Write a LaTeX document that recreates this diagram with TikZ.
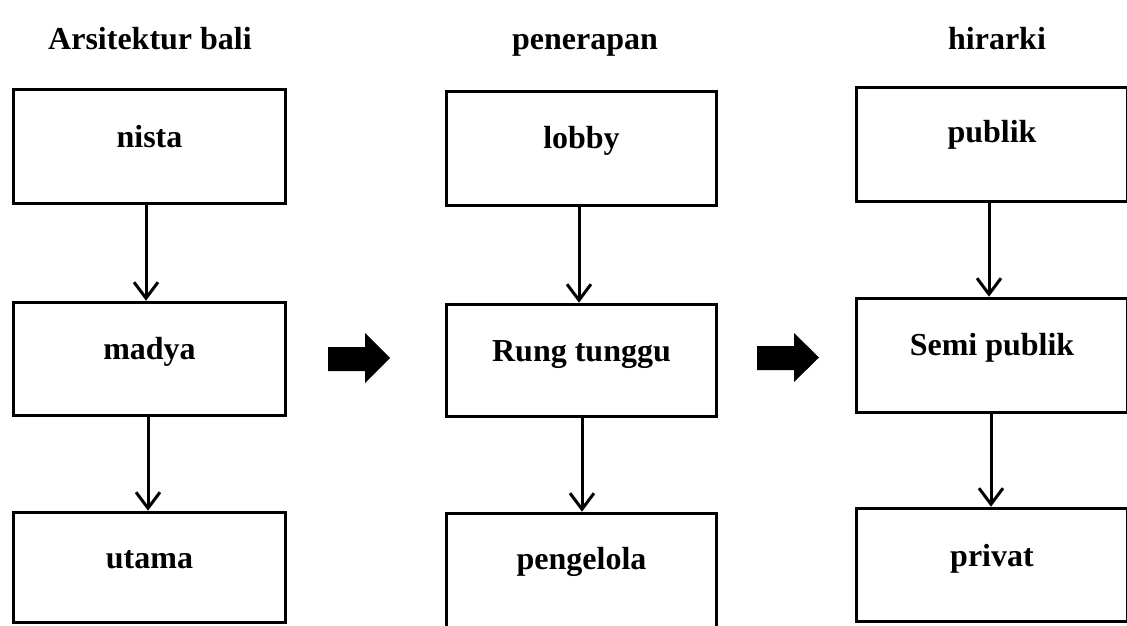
\documentclass[tikz,border=0pt]{standalone}
\usepackage{fontspec}
\setmainfont{Liberation Serif}
\usetikzlibrary{arrows.meta}
\tikzset{
  box/.style={draw=black, line width=3.6pt, inner sep=0pt, anchor=base, font=\fontsize{32}{38}\selectfont\bfseries},
  head/.style={inner sep=0pt, anchor=base, font=\fontsize{32}{38}\selectfont\bfseries},
  conn/.style={draw=black, line width=3pt, -{Straight Barb[length=16pt,width=24pt,line width=3pt]}},
  bigarrow/.style={fill=black}
}
\begin{document}
\begin{tikzpicture}[x=1pt,y=-1pt]
\path[use as bounding box] (0,0) rectangle (1127,626);
\clip (0,0) rectangle (1127,626);
% headers
\node[head] (h1) at (150,49) {Arsitektur bali};
\node[head] (h2) at (585,49) {penerapan};
\node[head] (h3) at (997,49) {hirarki};
% column 1
\node[box, minimum width=272pt, text height=57.5pt, text depth=56.5pt] (nista) at (149.5,147) {nista};
\node[box, minimum width=272pt, text height=56.5pt, text depth=56.5pt] (madya) at (149.5,359) {madya};
\node[box, minimum width=272pt, text height=55.5pt, text depth=54.5pt] (utama) at (149.5,568) {utama};
% column 2
\node[box, minimum width=270pt, text height=56.5pt, text depth=57.5pt] (lobby) at (581.5,148) {lobby};
\node[box, minimum width=270pt, text height=56.5pt, text depth=55.5pt] (rung) at (581.5,361) {Rung tunggu};
\node[box, minimum width=270pt, text height=55.5pt, text depth=64pt] (peng) at (581.5,569) {pengelola};
% column 3
\node[box, minimum width=271pt, text height=54.5pt, text depth=59.5pt] (publik) at (992,142) {publik};
\node[box, minimum width=271pt, text height=56.5pt, text depth=57.5pt] (semi) at (992,355) {Semi publik};
\node[box, minimum width=271pt, text height=57.5pt, text depth=55.5pt] (privat) at (992,566) {privat};
% connectors
\draw[conn] ([xshift=-3.5pt]nista.south) -- ([xshift=-3.5pt]madya.north);
\draw[conn] ([xshift=-1.5pt]madya.south) -- ([xshift=-1.5pt]utama.north);
\draw[conn] ([xshift=-2.5pt]lobby.south) -- ([xshift=-2.5pt]rung.north);
\draw[conn] ([xshift=0.5pt]rung.south) -- ([xshift=0.5pt]peng.north);
\draw[conn] ([xshift=-3pt]publik.south) -- ([xshift=-3pt]semi.north);
\draw[conn] ([xshift=-1pt]semi.south) -- ([xshift=-1pt]privat.north);
% block arrows
\fill[bigarrow] (328,347) -- (365,347) -- (365,333) -- (390,358) -- (365,383) -- (365,371) -- (328,371) -- cycle;
\fill[bigarrow] (757,346) -- (794,346) -- (794,333) -- (819,357.5) -- (794,382) -- (794,370) -- (757,370) -- cycle;
\end{tikzpicture}
\end{document}
